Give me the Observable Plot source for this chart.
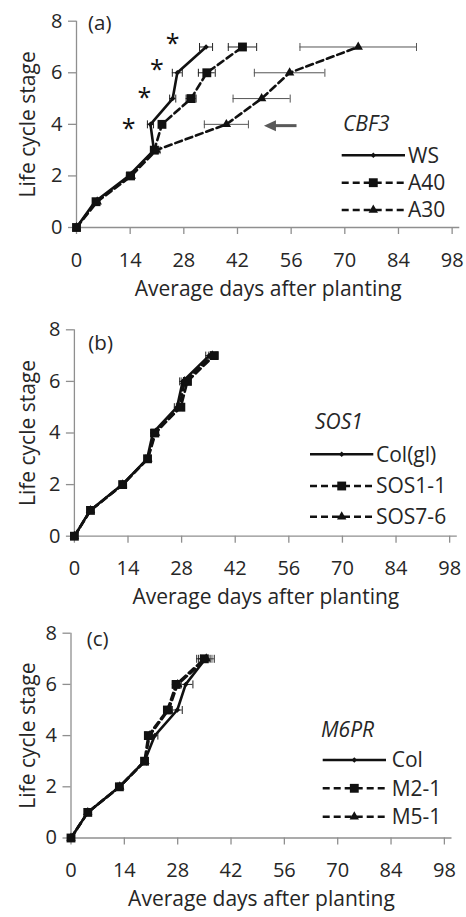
<!DOCTYPE html>
<html><head><meta charset="utf-8">
<script src="https://cdn.jsdelivr.net/npm/d3@7"></script>
<script src="https://cdn.jsdelivr.net/npm/@observablehq/plot@0.6"></script>
<style>
body{margin:0;background:#fff;}
#chart{width:466px;}
#chart svg{display:block;background:transparent;overflow:visible;}
</style>
</head><body><div id="chart"></div>
<script>
// ---------- shared axes ----------
const stages = [0, 1, 2, 3, 4, 5, 6, 7];
const xTicks = [0, 14, 28, 42, 56, 70, 84, 98];
const yTicks = [0, 2, 4, 6, 8];
const xLabel = "Average days after planting";
const yLabel = "Life cycle stage";

// ---------- (a) CBF3 ----------
const aNames = ["WS", "A40", "A30"];
const wsDays  = [0, 4.8, 13.6, 20.2, 19.3, 25.1, 26.3, 33.8];
const wsErr   = [0, 0, 0.6, 0.8, 0.8, 0.8, 1.3, 1.7];
const a40Days = [0, 5.1, 14.1, 20.3, 22.3, 29.9, 34.0, 43.3];
const a40Err  = [0, 0, 0.7, 1.0, 0.8, 1.3, 2.2, 3.7];
const a30Days = [0, 5.4, 14.3, 20.8, 39.1, 48.3, 55.6, 73.5];
const a30Err  = [0, 0, 0.8, 1.0, 5.75, 7.45, 9.2, 15.2];
const starDays   = [13.6, 17.7, 21.0, 25.1];
const starStages = [4.04, 5.25, 6.35, 7.34];
const arrowTail = {days: 57.4, stage: 3.95};
const arrowTip  = {days: 48.9, stage: 3.95};

// ---------- (b) SOS1 ----------
const bNames = ["Col(gl)", "SOS1-1", "SOS7-6"];
const colglDays = [0, 4.1, 12.5, 19.0, 20.5, 26.8, 28.3, 35.2];
const colglErr  = [0, 0, 0.4, 0.5, 0.6, 0.7, 0.8, 0.9];
const sos11Days = [0, 4.2, 12.6, 19.1, 21.0, 27.8, 29.5, 36.5];
const sos11Err  = [0, 0, 0.4, 0.5, 0.6, 0.8, 1.0, 1.0];
const sos76Days = [0, 4.2, 12.6, 19.2, 21.2, 27.4, 28.8, 36.0];
const sos76Err  = [0, 0, 0.4, 0.5, 0.6, 0.8, 0.9, 1.0];

// ---------- (c) M6PR ----------
const cNames = ["Col", "M2-1", "M5-1"];
const colDays = [0, 4.4, 12.7, 19.3, 22.0, 27.9, 30.1, 35.3];
const colErr  = [0, 0, 0.4, 0.5, 0.8, 1.3, 1.9, 2.3];
const m21Days = [0, 4.4, 12.7, 19.3, 20.3, 25.3, 27.6, 35.0];
const m21Err  = [0, 0, 0.4, 0.5, 0.8, 0.8, 1.0, 1.5];
const m51Days = [0, 4.4, 12.8, 19.4, 20.6, 25.6, 28.0, 35.5];
const m51Err  = [0, 0, 0.4, 0.5, 0.8, 0.8, 1.0, 1.5];

// ---------- styles ----------
const FONT = "'Open Sans', 'Noto Sans', sans-serif";
const INK = "#262626";
const AXIS = "#8f8f8f";
const DASH = "7,4";
const styles = [
  {symbol: "diamond2", r: 2.5, dash: null, err: "#222"},
  {symbol: "square", r: 5, dash: DASH, err: "#222"},
  {symbol: "triangle", r: 3.5, dash: DASH, err: "#555"}
];
const capSymbol = {draw(ctx) { ctx.moveTo(0, -4); ctx.lineTo(0, 4); }};
const headSymbol = {draw(ctx) { ctx.moveTo(0, 0); ctx.lineTo(12, -5.5); ctx.lineTo(12, 5.5); ctx.closePath(); }};

function rows(name, days, err) {
  return stages.map((s, i) => ({name, stage: s, days: days[i], err: err[i]}));
}

function panel(cfg) {
  const marks = [
    Plot.ruleY([0], {stroke: AXIS, strokeWidth: 1.3}),
    Plot.ruleX([0], {stroke: AXIS, strokeWidth: 1.3}),
    Plot.axisX({ticks: xTicks, tickSize: 7, tickPadding: 18, stroke: AXIS, strokeWidth: 1.3, fill: INK, label: null}),
    Plot.axisY({ticks: yTicks, tickSize: 8, tickPadding: 6, stroke: AXIS, strokeWidth: 1.3, fill: INK, label: null}),
    Plot.text([xLabel], {frameAnchor: "bottom", dy: 68, fontSize: 21, fill: INK}),
    Plot.text([yLabel], {frameAnchor: "left", textAnchor: "middle", dx: -(cfg.ml - 28), rotate: -90, fontSize: 21, fill: INK})
  ];
  cfg.series.forEach((s, k) => {
    const st = styles[k];
    const data = rows(s.name, s.days, s.err);
    const eb = data.filter(d => d.err > 0);
    marks.push(
      Plot.ruleY(eb, {y: "stage", x1: d => d.days - d.err, x2: d => d.days + d.err, stroke: st.err, strokeWidth: 1}),
      Plot.dot(eb, {x: d => d.days - d.err, y: "stage", symbol: capSymbol, fill: "none", stroke: st.err, strokeWidth: 1}),
      Plot.dot(eb, {x: d => d.days + d.err, y: "stage", symbol: capSymbol, fill: "none", stroke: st.err, strokeWidth: 1})
    );
  });
  cfg.series.forEach((s, k) => {
    const st = styles[k];
    const data = rows(s.name, s.days, s.err);
    marks.push(
      Plot.line(data, {x: "days", y: "stage", stroke: "#111", strokeWidth: 2.6, strokeDasharray: st.dash, strokeLinejoin: "round"}),
      Plot.dot(data, {x: "days", y: "stage", symbol: st.symbol, r: st.r, fill: "#111", stroke: "none"})
    );
  });
  if (cfg.extra) marks.push(...cfg.extra);
  const svg = Plot.plot({
    width: 466, height: cfg.height,
    marginTop: cfg.mt, marginBottom: cfg.mb, marginLeft: cfg.ml, marginRight: cfg.mr,
    style: {fontFamily: FONT, fontSize: "20px", color: INK, background: "transparent", overflow: "visible"},
    x: {domain: [0, 100]},
    y: {domain: [0, 8]},
    marks
  });
  // panel label & legend (layout, pixel positioned)
  const g = d3.select(svg).append("g").attr("font-family", FONT).attr("fill", INK).attr("text-anchor", "start");
  g.append("text").attr("x", cfg.tag.x).attr("y", cfg.tag.y).attr("dy", "0.35em").attr("font-size", 20.5).text(cfg.tag.text);
  const L = cfg.legend;
  g.append("text").attr("x", L.titleX).attr("y", L.titleY).attr("dy", "0.35em")
    .attr("font-size", 21).attr("font-style", "italic").text(L.title);
  cfg.series.forEach((s, k) => {
    const st = styles[k], y = L.rows[k];
    g.append("line").attr("x1", L.x1).attr("x2", L.x2).attr("y1", y).attr("y2", y)
      .attr("stroke", "#111").attr("stroke-width", 2.6).attr("stroke-dasharray", st.dash);
    const sym = {diamond2: d3.symbolDiamond2, square: d3.symbolSquare, triangle: d3.symbolTriangle}[st.symbol];
    g.append("path").attr("d", d3.symbol(sym, st.r * st.r * Math.PI)())
      .attr("transform", `translate(${L.mx},${y})`).attr("fill", "#111");
    g.append("text").attr("x", L.tx).attr("y", y).attr("dy", "0.35em").attr("font-size", 21).text(s.name);
  });
  return svg;
}

const chart = document.getElementById("chart");

chart.append(panel({
  height: 306, mt: 20.7, mb: 79, ml: 76, mr: 6.7,
  series: [
    {name: aNames[0], days: wsDays, err: wsErr},
    {name: aNames[1], days: a40Days, err: a40Err},
    {name: aNames[2], days: a30Days, err: a30Err}
  ],
  extra: [
    Plot.text(starDays.map((d, i) => ({days: d, stage: starStages[i]})), {x: "days", y: "stage", text: () => "*", fontSize: 25, dy: 6, fill: "#111"}),
    Plot.link([{a: arrowTail, b: arrowTip}], {x1: d => d.a.days, y1: d => d.a.stage, x2: d => d.b.days + 2, y2: d => d.b.stage, stroke: "#595959", strokeWidth: 3}),
    Plot.dot([arrowTip], {x: "days", y: "stage", symbol: headSymbol, fill: "#595959", stroke: "none"})
  ],
  tag: {text: "(a)", x: 88, y: 22.5},
  legend: {title: "CBF3", titleX: 343, titleY: 123.3, rows: [155.3, 182.7, 210], x1: 341.7, x2: 405, mx: 373.3, tx: 408}
}));

chart.append(panel({
  height: 309, mt: 23.3, mb: 79.3, ml: 73.9, mr: 9.2,
  series: [
    {name: bNames[0], days: colglDays, err: colglErr},
    {name: bNames[1], days: sos11Days, err: sos11Err},
    {name: bNames[2], days: sos76Days, err: sos76Err}
  ],
  tag: {text: "(b)", x: 88.3, y: 37.3},
  legend: {title: "SOS1", titleX: 315, titleY: 116, rows: [148.3, 180, 210.7], x1: 310, x2: 373.3, mx: 341.7, tx: 376}
}));

chart.append(panel({
  height: 302, mt: 17.7, mb: 79.5, ml: 70.5, mr: 14.5,
  series: [
    {name: cNames[0], days: colDays, err: colErr},
    {name: cNames[1], days: m21Days, err: m21Err},
    {name: cNames[2], days: m51Days, err: m51Err}
  ],
  tag: {text: "(c)", x: 86.7, y: 24.3},
  legend: {title: "M6PR", titleX: 321, titleY: 115, rows: [145, 173.3, 201.7], x1: 322.7, x2: 386, mx: 354.3, tx: 391.7}
}));
</script>
</body></html>
